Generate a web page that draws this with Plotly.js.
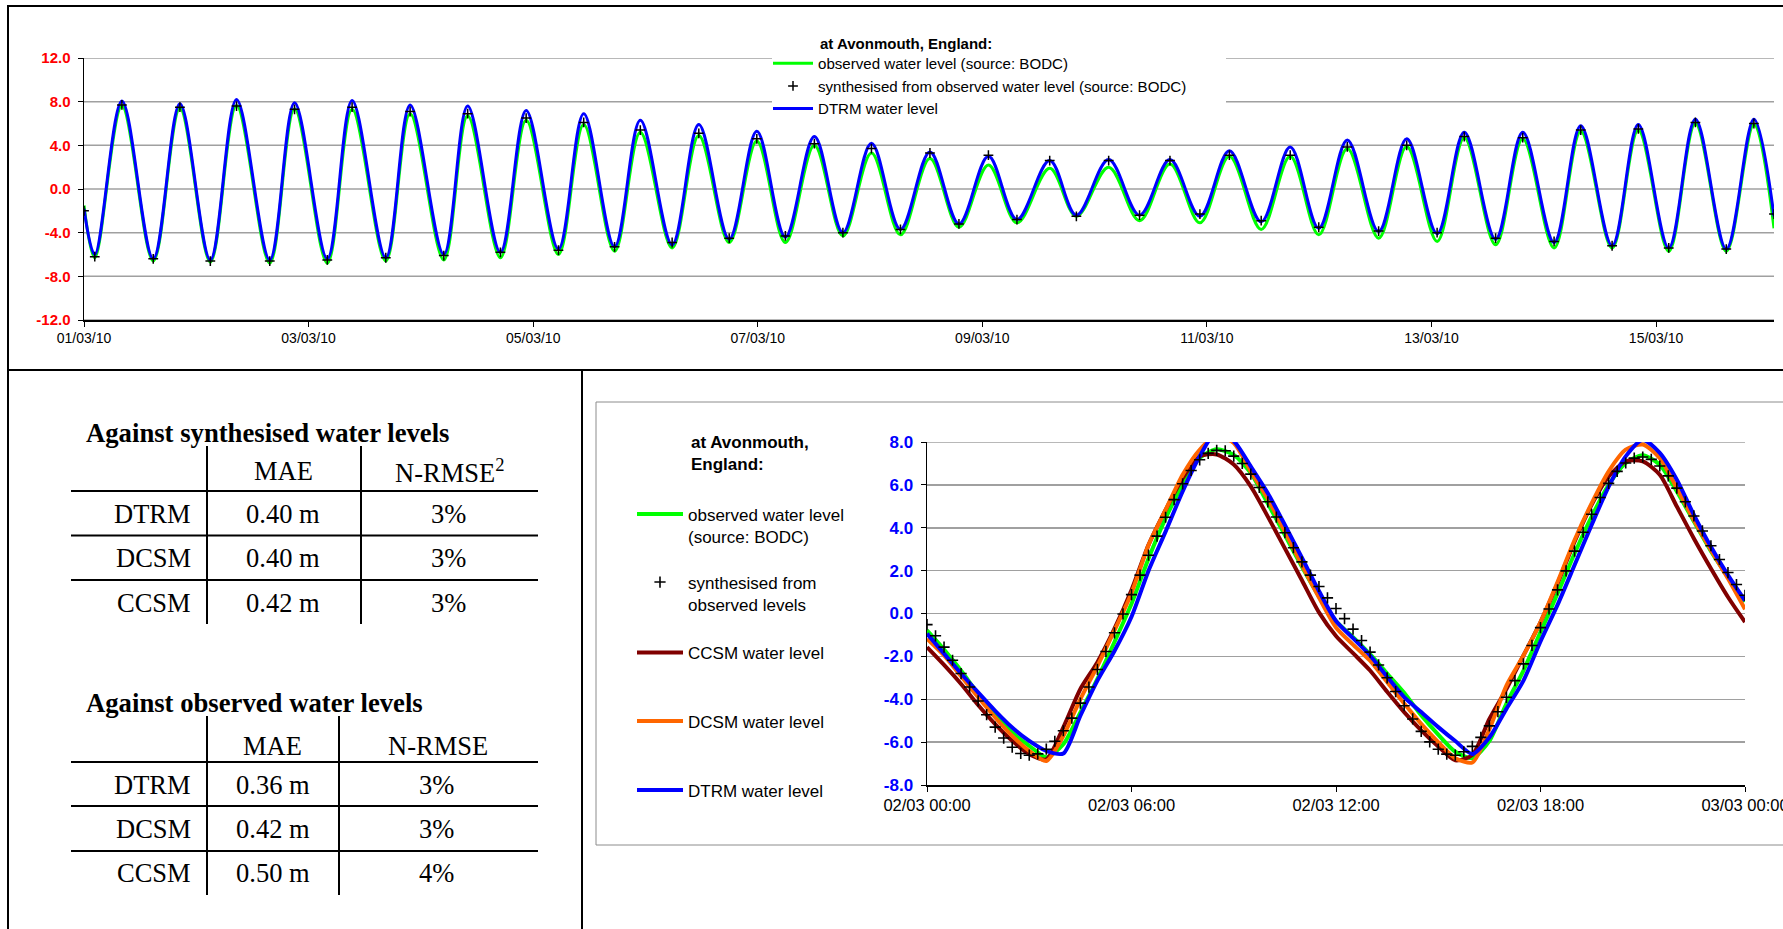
<!DOCTYPE html>
<html><head><meta charset="utf-8">
<script src="https://cdn.plot.ly/plotly-3.0.1.min.js"></script>
<style>html,body{margin:0;padding:0;background:#fff;} #chart{width:1783px;height:929px;}</style>
</head><body><div id="chart"></div>
<script>
// ================= DATA =================
// --- Top chart: 01/03/2010 .. 16/03/2010, times in hours after 01/03/2010 00:00 ---
const topEndHour = 361.2;
const lwHours = [2.3,14.8,27.0,39.7,52.0,64.5,76.9,89.0,101.4,113.4,125.7,137.9,149.9,162.2,174.5,187.0,199.4,212.1,225.6,238.5,251.6,263.9,276.7,289.2,301.7,314.2,326.6,338.7,351.0];
const hwHours = [8.1,20.5,32.6,45.0,57.3,69.7,82.0,94.5,106.8,118.9,131.4,143.8,156.1,168.3,180.8,193.3,206.4,219.0,232.1,244.8,257.8,270.0,282.7,295.0,307.5,319.9,332.2,344.4,356.9];
// levels (m) at start / end of the window
const obsEnds  = [-1.5, -3.6];
const synEnds  = [-2.0, -2.3];
const dtrmEnds = [-1.8, -2.5];
// low-water and high-water levels (m)
const obsLW  = [-6.3,-6.6,-6.7,-6.8,-6.8,-6.6,-6.5,-6.3,-6.0,-5.7,-5.4,-4.9,-4.9,-4.3,-4.2,-3.5,-3.1,-2.5,-2.9,-3.1,-3.7,-4.2,-4.5,-4.8,-5.1,-5.4,-5.4,-5.7,-5.7];
const obsHW  = [7.6,7.4,7.65,7.35,7.3,6.9,6.7,6.3,5.9,5.2,4.9,4.4,4.0,3.3,2.8,2.2,1.9,2.0,2.3,3.0,3.0,3.7,3.9,4.7,4.6,5.3,5.4,6.0,5.9];
const synLW  = [-6.2,-6.4,-6.6,-6.6,-6.5,-6.3,-6.1,-5.8,-5.6,-5.3,-4.9,-4.5,-4.3,-4.0,-3.7,-3.2,-2.8,-2.5,-2.4,-2.3,-2.9,-3.5,-3.85,-4.0,-4.5,-4.8,-5.2,-5.4,-5.5];
const synHW  = [7.7,7.5,7.6,7.3,7.5,7.1,6.9,6.5,6.1,5.4,5.1,4.6,4.15,3.7,3.3,3.1,2.6,2.6,2.6,3.1,3.1,3.85,4.0,4.8,4.7,5.4,5.5,6.1,6.0];
const dtrmLW = [-6.0,-6.4,-6.5,-6.5,-6.4,-6.3,-6.0,-5.8,-5.5,-5.3,-5.1,-4.6,-4.4,-4.0,-3.7,-3.2,-2.8,-2.4,-2.4,-2.5,-3.0,-3.6,-3.9,-4.1,-4.6,-4.9,-5.2,-5.4,-5.5];
const dtrmHW = [8.05,7.8,8.2,7.9,8.1,7.7,7.6,7.2,6.9,6.3,5.9,5.3,4.8,4.2,3.4,3.0,2.6,2.7,2.7,3.5,3.85,4.5,4.6,5.2,5.2,5.8,5.9,6.4,6.4];
const topYTickVals = [-12,-8,-4,0,4,8,12];
const topYTickText = ['-12.0','-8.0','-4.0','0.0','4.0','8.0','12.0'];

// --- Bottom chart: 02/03/2010 00:00 .. 03/03/2010 00:00 ---
const modelHours = [0,0.5,1,1.5,2,2.5,3,3.5,4,4.5,5,5.5,6,6.5,7,7.5,8,8.5,9,9.5,10,10.5,11,11.5,12,12.5,13,13.5,14,14.5,15,15.5,16,16.5,17,17.5,18,18.5,19,19.5,20,20.5,21,21.5,22,22.5,23,23.5,24];
const obsDay  = [-0.79,-1.68,-2.66,-3.75,-4.7,-5.55,-6.17,-6.7,-6.1,-4.61,-3.05,-1.33,0.45,2.57,4.44,6.0,7.25,7.66,7.4,6.55,5.13,3.66,2.18,0.8,-0.35,-1.1,-1.9,-2.8,-3.7,-4.75,-5.65,-6.45,-6.75,-5.94,-4.2,-2.66,-0.87,0.93,2.8,4.52,6.0,7.02,7.38,6.94,5.69,4.29,2.91,1.71,0.55];
const ccsmDay = [-1.57,-2.40,-3.29,-4.27,-5.16,-5.94,-6.56,-6.80,-5.31,-3.52,-2.27,-0.71,1.1,3.2,4.83,6.31,7.33,7.42,6.95,5.93,4.52,3.04,1.55,0.05,-1.05,-1.85,-2.66,-3.65,-4.6,-5.45,-6.2,-6.85,-6.6,-4.92,-3.52,-1.96,-0.4,1.4,3.35,5.07,6.39,7.1,7.1,6.47,4.99,3.50,2.10,0.77,-0.4];
const dcsmDay = [-1.18,-1.96,-2.93,-3.91,-4.85,-5.71,-6.41,-6.88,-5.71,-3.99,-2.45,-0.79,0.95,3.19,4.83,6.47,7.64,8.3,7.95,6.63,5.35,3.82,2.26,0.75,-0.65,-1.45,-2.2,-3.2,-4.2,-5.15,-6.0,-6.75,-6.95,-5.4,-3.36,-1.96,-0.4,1.47,3.43,5.14,6.63,7.64,7.88,7.25,5.85,4.36,2.96,1.63,0.2];
const dtrmDay = [-0.94,-1.87,-2.80,-3.68,-4.54,-5.32,-5.94,-6.41,-6.53,-4.77,-3.13,-1.75,-0.15,2.0,3.82,5.69,7.33,8.5,8.05,6.86,5.61,4.13,2.6,1.05,-0.35,-1.15,-1.96,-2.95,-3.9,-4.6,-5.3,-5.95,-6.55,-5.78,-4.45,-3.13,-1.3,0.4,2.26,4.13,5.92,7.33,8.1,7.49,6.24,4.60,3.11,1.79,0.6];
// synthesised levels every 15 minutes from 00:00
const synStepMinutes = 15;
const synDay = [-0.52,-1.04,-1.57,-2.18,-2.80,-3.43,-4.08,-4.72,-5.30,-5.81,-6.24,-6.53,-6.61,-6.55,-6.33,-5.96,-5.47,-4.88,-4.18,-3.43,-2.61,-1.77,-0.90,-0.02,
  0.88,1.79,2.72,3.61,4.49,5.31,6.05,6.67,7.17,7.47,7.61,7.59,7.34,7.00,6.50,5.88,5.21,4.50,3.77,3.07,2.41,1.79,1.26,0.73,
  0.23,-0.24,-0.73,-1.26,-1.80,-2.40,-3.00,-3.64,-4.30,-4.92,-5.50,-5.99,-6.33,-6.56,-6.61,-6.45,-6.20,-5.78,-5.24,-4.58,-3.91,-3.13,-2.35,-1.49,
  -0.66,0.21,1.10,1.99,2.91,3.79,4.63,5.41,6.07,6.63,7.02,7.25,7.30,7.19,6.88,6.42,5.85,5.21,4.55,3.85,3.16,2.52,1.91,1.35,0.85];
const botYTickVals = [-8,-6,-4,-2,0,2,4,6,8];
const botYTickText = ['-8.0','-6.0','-4.0','-2.0','0.0','2.0','4.0','6.0','8.0'];

// --- Tables ---
const tableModels = ['DTRM','DCSM','CCSM'];
const synthMAE = ['0.40 m','0.40 m','0.42 m'];
const synthNRMSE = ['3%','3%','3%'];
const obsMAE = ['0.36 m','0.42 m','0.50 m'];
const obsNRMSE = ['3%','3%','4%'];

// ================= BUILD =================
const W = 1783, H = 929;
const px = x => x / W;
const py = y => 1 - y / H;
function hToDate(day, h) {
  const d = new Date(Date.UTC(2010, 2, day) + Math.round(h * 3600000));
  return d.toISOString().slice(0, 19).replace('T', ' ');
}
function tideSeries(ends, lw, hw) {
  const xs = [hToDate(1, 0)], ys = [ends[0]];
  for (let i = 0; i < lwHours.length; i++) {
    xs.push(hToDate(1, lwHours[i])); ys.push(lw[i]);
    xs.push(hToDate(1, hwHours[i])); ys.push(hw[i]);
  }
  xs.push(hToDate(1, topEndHour)); ys.push(ends[1]);
  return {xs, ys};
}
const SANS = 'Liberation Sans, Arial, sans-serif';
const SERIF = 'Liberation Serif, Times New Roman, serif';
const GRID = '#a0a0a0';

const tObs = tideSeries(obsEnds, obsLW, obsHW);
const tSyn = tideSeries(synEnds, synLW, synHW);
const tDtrm = tideSeries(dtrmEnds, dtrmLW, dtrmHW);
const modelX = modelHours.map(h => hToDate(2, h));
const synX = synDay.map((v, i) => hToDate(2, i * synStepMinutes / 60));

const traces = [
  {x: tObs.xs, y: tObs.ys, name: 'observed water level (source: BODC)', mode: 'lines',
   line: {color: '#00FF00', width: 3, shape: 'spline', smoothing: 1}, legendrank: 1, xaxis: 'x', yaxis: 'y'},
  {x: tDtrm.xs, y: tDtrm.ys, name: 'DTRM water level', mode: 'lines',
   line: {color: '#0000FF', width: 3, shape: 'spline', smoothing: 1}, legendrank: 3, xaxis: 'x', yaxis: 'y'},
  {x: tSyn.xs, y: tSyn.ys, name: 'synthesised from observed water level (source: BODC)', mode: 'markers',
   marker: {symbol: 'cross-thin', size: 7, line: {color: '#000', width: 1.5}}, legendrank: 2, xaxis: 'x', yaxis: 'y'},

  {x: modelX, y: obsDay, name: 'observed water level<br>(source: BODC)', mode: 'lines', legend: 'legend2',
   line: {color: '#00FF00', width: 4, shape: 'spline', smoothing: 0.7}, xaxis: 'x2', yaxis: 'y2'},
  {x: modelX, y: ccsmDay, name: 'CCSM water level', mode: 'lines', legend: 'legend4',
   line: {color: '#800000', width: 4, shape: 'spline', smoothing: 0.7}, xaxis: 'x2', yaxis: 'y2'},
  {x: modelX, y: dcsmDay, name: 'DCSM water level', mode: 'lines', legend: 'legend5',
   line: {color: '#FF6600', width: 4, shape: 'spline', smoothing: 0.7}, xaxis: 'x2', yaxis: 'y2'},
  {x: modelX, y: dtrmDay, name: 'DTRM water level', mode: 'lines', legend: 'legend6',
   line: {color: '#0000FF', width: 4, shape: 'spline', smoothing: 0.7}, xaxis: 'x2', yaxis: 'y2'},
  {x: synX, y: synDay, name: 'synthesised from<br>observed levels', mode: 'markers', legend: 'legend3',
   marker: {symbol: 'cross-thin', size: 8, line: {color: '#000', width: 1.6}}, xaxis: 'x2', yaxis: 'y2'}
];

// shapes: gridlines of the top chart (broken behind the legend), frames, table rules
const shapes = [];
const legendGap = [(772 - 84) / 1690, (1226 - 84) / 1690];   // in x-domain fraction
topYTickVals.forEach(v => {
  const broken = v >= 8;
  const segs = broken ? [[0, legendGap[0]], [legendGap[1], 1]] : [[0, 1]];
  segs.forEach(s => shapes.push({type: 'line', xref: 'x domain', yref: 'y', layer: 'below',
    x0: s[0], x1: s[1], y0: v, y1: v, line: {color: GRID, width: 1.5}}));
});
shapes.push({type: 'line', xref: 'x2 domain', yref: 'y2', layer: 'below', x0: 0, x1: 1, y0: 8, y1: 8, line: {color: GRID, width: 1.5}});

function hline(x0, x1, y, color, w) { shapes.push({type: 'line', xref: 'paper', yref: 'paper', x0: px(x0), x1: px(x1), y0: py(y), y1: py(y), line: {color: color, width: w}}); }
function vline(x, y0, y1, color, w) { shapes.push({type: 'line', xref: 'paper', yref: 'paper', x0: px(x), x1: px(x), y0: py(y0), y1: py(y1), line: {color: color, width: w}}); }
hline(7, 1783, 6, '#000', 2);
vline(8, 5, 929, '#000', 2);
hline(7, 1783, 370, '#000', 2);
vline(582, 370, 929, '#000', 2);
shapes.push({type: 'rect', xref: 'paper', yref: 'paper', x0: px(596), x1: px(1800), y0: py(402), y1: py(845), line: {color: '#8c8c8c', width: 1}});
// table 1
vline(207, 446, 624, '#000', 2); vline(361, 446, 624, '#000', 2);
[491, 535.5, 580].forEach(y => hline(71, 538, y, '#000', 2));
// table 2
vline(207, 716, 895, '#000', 2); vline(339, 716, 895, '#000', 2);
[762, 806, 851].forEach(y => hline(71, 538, y, '#000', 2));

const annotations = [];
function txt(text, x, y, anchor, size, family, extra) {
  annotations.push(Object.assign({text: text, xref: 'paper', yref: 'paper', x: px(x), y: py(y), xanchor: anchor, yanchor: 'middle',
    showarrow: false, font: {family: family, size: size, color: '#000'}}, extra || {}));
}
txt('<b>at Avonmouth, England:</b>', 818, 43, 'left', 15, SANS);
txt('<b>at Avonmouth,<br>England:</b>', 689, 453, 'left', 17, SANS, {align: 'left'});
const TF = 26.5;
// table 1
txt('<b>Against synthesised water levels</b>', 84, 433, 'left', 26.7, SERIF);
txt('MAE', 283, 471, 'center', TF, SERIF);
txt('N-RMSE<sup>2</sup>', 449, 471, 'center', TF, SERIF);
const rows1 = [514, 558, 603];
tableModels.forEach((m, i) => {
  txt(m, 193, rows1[i], 'right', TF, SERIF);
  txt(synthMAE[i], 283, rows1[i], 'center', TF, SERIF);
  txt(synthNRMSE[i], 448, rows1[i], 'center', TF, SERIF);
});
// table 2
txt('<b>Against observed water levels</b>', 84, 703, 'left', 26.7, SERIF);
txt('MAE', 272, 746, 'center', TF, SERIF);
txt('N-RMSE', 438, 746, 'center', TF, SERIF);
const rows2 = [785, 829, 873];
tableModels.forEach((m, i) => {
  txt(m, 193, rows2[i], 'right', TF, SERIF);
  txt(obsMAE[i], 273, rows2[i], 'center', TF, SERIF);
  txt(obsNRMSE[i], 436, rows2[i], 'center', TF, SERIF);
});

// one small legend per entry of the lower chart, stacked like the original
const lowLegendTops = {legend2: 496.5, legend3: 564.5, legend4: 635, legend5: 703.5, legend6: 772.5};

const layout = {
  width: W, height: H, margin: {l: 0, r: 0, t: 0, b: 0},
  paper_bgcolor: '#fff', plot_bgcolor: 'rgba(0,0,0,0)',
  font: {family: SANS, color: '#000'},
  showlegend: true,
  xaxis: {domain: [px(84), px(1774)], anchor: 'y', type: 'date',
    range: [hToDate(1, 0), hToDate(1, topEndHour)],
    tickmode: 'linear', tick0: '2010-03-01', dtick: 2 * 86400000, tickformat: '%d/%m/%y',
    showgrid: false, showline: true, linecolor: '#000', linewidth: 1.5,
    ticks: 'outside', ticklen: 5, tickcolor: '#000', tickfont: {size: 14, color: '#000'}, zeroline: false},
  yaxis: {domain: [py(320), py(58)], anchor: 'x', range: [-12, 12],
    tickmode: 'array', tickvals: topYTickVals, ticktext: topYTickText,
    showgrid: false, zeroline: false,
    showline: true, linecolor: '#000', linewidth: 1.5, ticks: 'outside', ticklen: 5, tickcolor: '#000',
    ticklabelstandoff: 4, tickfont: {size: 15, color: '#FF0000', weight: 'bold'}},
  xaxis2: {domain: [px(927), px(1745)], anchor: 'y2', type: 'date',
    range: ['2010-03-02 00:00:00', '2010-03-03 00:00:00'],
    tickmode: 'linear', tick0: '2010-03-02', dtick: 6 * 3600000, tickformat: '%d/%m %H:%M',
    showgrid: false, showline: true, linecolor: '#000', linewidth: 1.5, ticklabeloverflow: 'allow',
    ticks: 'outside', ticklen: 5, tickcolor: '#000', tickfont: {size: 16.5, color: '#000'}, zeroline: false},
  yaxis2: {domain: [py(785), py(442)], anchor: 'x2', range: [-8, 8],
    tickmode: 'array', tickvals: botYTickVals, ticktext: botYTickText,
    showgrid: true, gridcolor: GRID, gridwidth: 1.5, zeroline: false,
    showline: true, linecolor: '#000', linewidth: 1.5, ticks: 'outside', ticklen: 5, tickcolor: '#000',
    ticklabelstandoff: 4, tickfont: {size: 17, color: '#0000FF', weight: 'bold'}},
  legend: {x: px(768), y: py(47), xanchor: 'left', yanchor: 'top', bgcolor: 'rgba(0,0,0,0)', borderwidth: 0,
    font: {size: 15.1, family: SANS, color: '#000'}, traceorder: 'normal', itemwidth: 40},
  shapes: shapes,
  annotations: annotations
};
Object.keys(lowLegendTops).forEach(k => {
  layout[k] = {x: px(632), y: py(lowLegendTops[k]), xanchor: 'left', yanchor: 'top', bgcolor: 'rgba(0,0,0,0)', borderwidth: 0,
    font: {size: 17, family: SANS, color: '#000'}, itemwidth: 46, valign: 'top'};
});

Plotly.newPlot('chart', traces, layout, {displayModeBar: false, staticPlot: true});
</script>
</body></html>
